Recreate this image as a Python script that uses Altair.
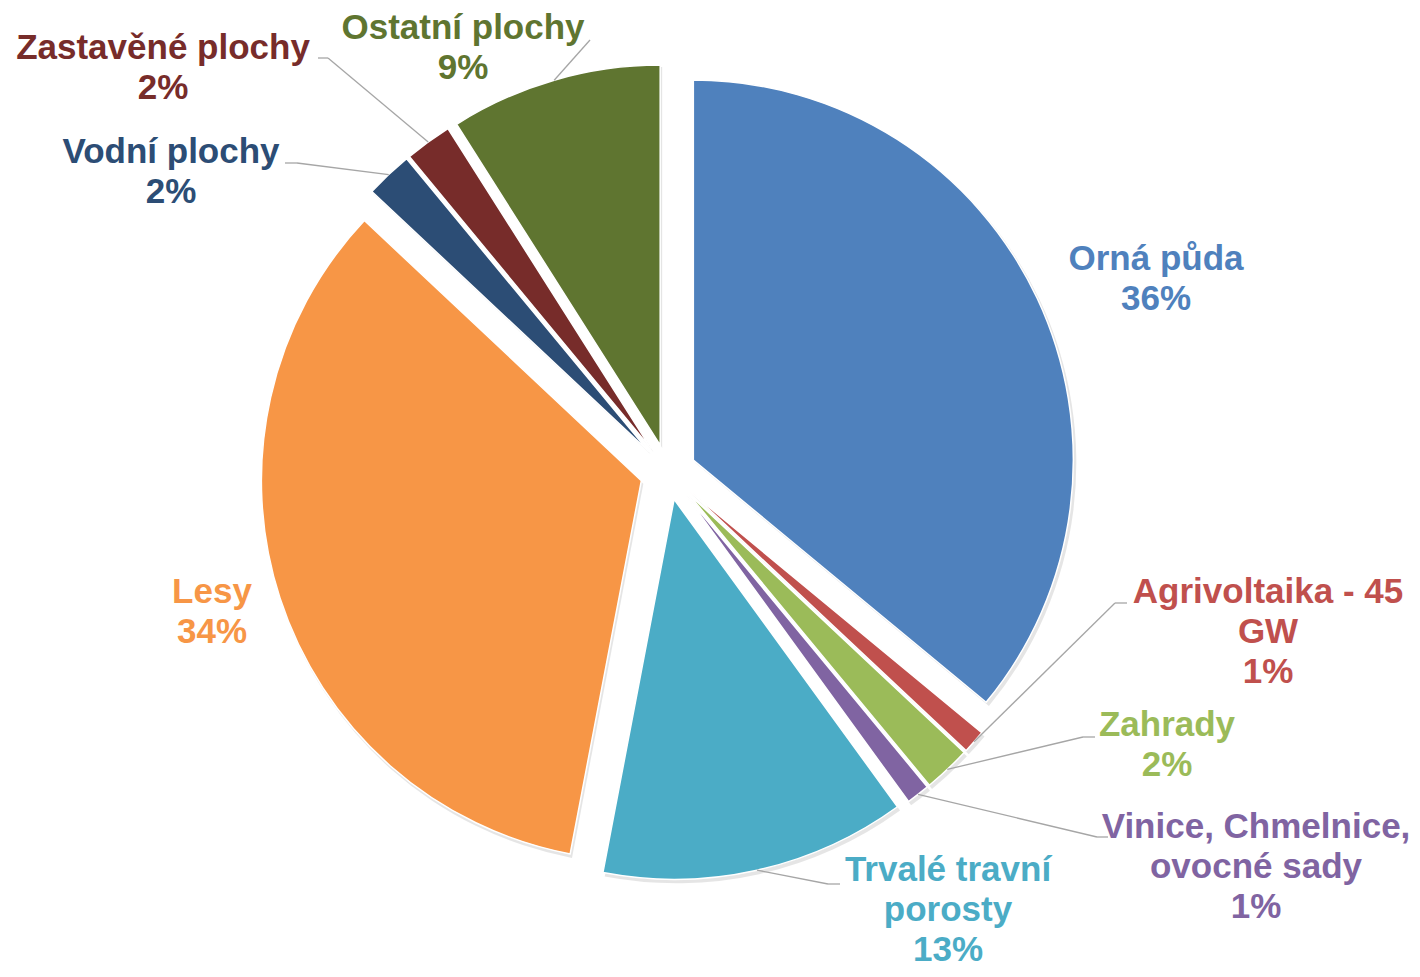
import altair as alt
import pandas as pd

# ---- data ----
categories = ["Orná půda", "Agrivoltaika - 45 GW", "Zahrady",
              "Vinice, Chmelnice, ovocné sady", "Trvalé travní porosty",
              "Lesy", "Vodní plochy", "Zastavěné plochy", "Ostatní plochy"]
shares = [36, 1, 2, 1, 13, 34, 2, 2, 9]
colors = ["#4F81BD", "#C0504D", "#9BBB59", "#8064A2", "#4BACC6",
          "#F79646", "#2C4D75", "#772C2A", "#5F7530"]

# ---- label layout (line wrapping, placement relative to the pie centre) ----
display_names = ["Orná půda", "Agrivoltaika - 45\nGW", "Zahrady",
                 "Vinice, Chmelnice,\novocné sady", "Trvalé travní\nporosty",
                 "Lesy", "Vodní plochy", "Zastavěné plochy", "Ostatní plochy"]
label_dx = [488, 600, 499, 588, 280, -456, -497, -505, -205]
label_dy = [-193, 160, 273, 395, 438, 140, -300, -404, -424]
has_leader = [False, True, True, True, True, False, True, True, True]
elbow_dx = [0, 447, 415, 429, 160, 0, -371, -340, -78]
elbow_dy = [0, 131, 265, 365, 412, 0, -309, -414, -432]
tail = [0, 12, 12, 11, 12, 0, -12, -10, 0]

CX, CY = 660, 464     # pie centre (px)
R = 380               # pie radius (px)
EXPLODE = 28          # slice explosion (px)
LINE_H = 40           # label line height (px)

df = pd.DataFrame({
    "idx": list(range(len(categories))),
    "name": categories,
    "share": shares,
    "disp": display_names,
    "ldx": label_dx,
    "ldy": label_dy,
    "leader": has_leader,
    "edx": elbow_dx,
    "edy": elbow_dy,
    "tail": tail,
})

color = alt.Color("name:N", scale=alt.Scale(domain=categories, range=colors), legend=None)

base = (
    alt.Chart(df)
    .transform_window(cum="sum(share)", sort=[alt.SortField("idx")], frame=[None, 0])
    .transform_joinaggregate(total="sum(share)")
    .transform_calculate(
        t0="(datum.cum - datum.share) / datum.total * 2 * PI",
        t1="datum.cum / datum.total * 2 * PI",
        mid="(datum.t0 + datum.t1) / 2",
        cx=f"{CX} + {EXPLODE} * sin(datum.mid)",
        cy=f"{CY} - {EXPLODE} * cos(datum.mid)",
        px=f"datum.cx + {R} * sin(datum.mid)",
        py=f"datum.cy - {R} * cos(datum.mid)",
        pct="round(datum.share / datum.total * 100) + '%'",
        label="datum.disp + '\\n' + datum.pct",
        nlines="length(split(datum.label, '\\n'))",
        lx=f"{CX} + datum.ldx",
        ly=f"{CY} + datum.ldy - (datum.nlines - 1) * {LINE_H} / 2",
        ex=f"{CX} + datum.edx",
        ey=f"{CY} + datum.edy",
        tx="datum.ex + datum.tail",
        sx="datum.cx + 2",
        sy="datum.cy + 3",
    )
)

shadow = base.mark_arc(outerRadius=R + 1, color="#000000", opacity=0.10).encode(
    theta=alt.Theta("t0:Q", scale=None),
    theta2="t1:Q",
    x=alt.X("sx:Q", scale=None),
    y=alt.Y("sy:Q", scale=None),
)

arcs = base.mark_arc(outerRadius=R, stroke="white", strokeWidth=1.5).encode(
    theta=alt.Theta("t0:Q", scale=None),
    theta2="t1:Q",
    x=alt.X("cx:Q", scale=None),
    y=alt.Y("cy:Q", scale=None),
    color=color,
)

lead1 = base.transform_filter("datum.leader").mark_rule(color="#A6A6A6", strokeWidth=1.3).encode(
    x=alt.X("px:Q", scale=None), y=alt.Y("py:Q", scale=None),
    x2="ex:Q", y2="ey:Q",
)
lead2 = base.transform_filter("datum.leader").mark_rule(color="#A6A6A6", strokeWidth=1.3).encode(
    x=alt.X("ex:Q", scale=None), y=alt.Y("ey:Q", scale=None),
    x2="tx:Q", y2="ey:Q",
)

labels = base.mark_text(
    font="Liberation Sans", fontSize=35, fontWeight="bold",
    align="center", baseline="middle", lineBreak="\n", lineHeight=LINE_H,
).encode(
    x=alt.X("lx:Q", scale=None),
    y=alt.Y("ly:Q", scale=None),
    text="label:N",
    color=color,
)

chart = (
    alt.layer(shadow, arcs, lead1, lead2, labels)
    .properties(width=1404, height=961, autosize="none", padding=0)
    .configure_view(stroke=None)
)

chart.save("out.html", embed_options={"renderer": "svg", "actions": False})
